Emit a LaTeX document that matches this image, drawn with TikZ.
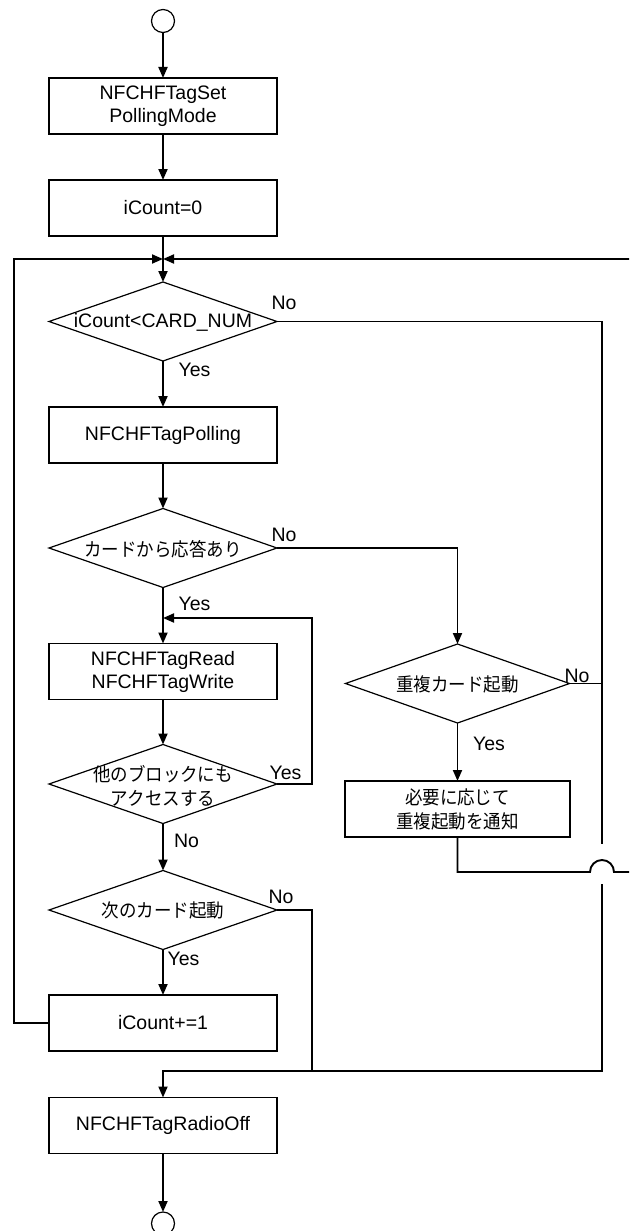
\documentclass[tikz,border=0pt]{standalone}
\usepackage{fontspec}
\setmainfont{Liberation Sans}
\newfontfamily\jpfam[FakeStretch=0.93]{Noto Sans CJK JP}
\usetikzlibrary{shapes.geometric,arrows.meta}
\newcommand\myfs{\fontsize{19.5}{23}\selectfont}
\newcommand\jpfs{\jpfam\fontsize{18.8}{24}\selectfont}
\begin{document}
\begin{tikzpicture}[x=1pt,y=-1pt,
 proc/.style={draw,line width=1.2pt,minimum width=228pt,minimum height=56pt,inner sep=0pt,outer sep=0pt,align=center,font=\myfs},
 dia/.style={draw,shape=diamond,line width=1.2pt,minimum width=228pt,minimum height=79pt,inner sep=0pt,outer sep=0pt},
 term/.style={draw,circle,line width=1.2pt,minimum size=23pt,inner sep=0pt,outer sep=0pt},
 lbl/.style={font=\myfs,inner sep=0pt},
 jtxt/.style={font=\jpfs,inner sep=0pt,align=center},
 conn/.style={line width=1.9pt},
 arr/.style={conn,-{Triangle[length=11pt,width=9pt]}}]
\useasboundingbox (0,0) rectangle (629,1231);
\clip (0,0) rectangle (629,1231);
% main column
\node[term] (start) at (163,21) {};
\node[proc] (b1) at (163,106) {NFCHFTagSet\\PollingMode};
\node[proc] (b2) at (163,208) {iCount=0};
\coordinate (j) at (163,259);
\node[dia] (d1) at (163,321.5) {};
\node[lbl] (d1t) at (163,322) {iCount<CARD\_NUM};
\node[proc] (b3) at (163,435) {NFCHFTagPolling};
\node[dia] (d2) at (163,548) {};
\node[jtxt] (d2t) at (163,549) {カードから応答あり};
\node[proc] (b4) at (163,671.5) {NFCHFTagRead\\NFCHFTagWrite};
\node[dia] (d4) at (163,784) {};
\node[jtxt] (d4t) at (163,786) {他のブロックにも\\アクセスする};
\node[dia] (d5) at (163,910) {};
\node[jtxt] (d5t) at (163,910) {次のカード起動};
\node[proc] (b6) at (163,1023) {iCount+=1};
\coordinate (m) at (163,1071);
\node[proc] (b7) at (163,1125.5) {NFCHFTagRadioOff};
\node[term] (end) at (163,1223.5) {};
% right column
\node[dia,minimum width=224pt] (d3) at (457.5,683.5) {};
\node[jtxt] (d3t) at (457.5,684) {重複カード起動};
\node[proc,minimum width=225pt,font=\jpfs] (b5) at (457.5,809) {必要に応じて\\重複起動を通知};
% coordinates
\coordinate (lp) at (163,618);
\coordinate (r3) at (602,683.5);
\coordinate (m5) at (312,1071);
% labels
\node[lbl] (l1n) at (284,303) {No};
\node[lbl] (l1y) at (194.5,370) {Yes};
\node[lbl] (l2n) at (284,535) {No};
\node[lbl] (l2y) at (194.5,603.5) {Yes};
\node[lbl] (l3n) at (577,676) {No};
\node[lbl] (l3y) at (489,744) {Yes};
\node[lbl] (l4y) at (285.5,772.5) {Yes};
\node[lbl] (l4n) at (186.5,840.5) {No};
\node[lbl] (l5n) at (281,896.5) {No};
\node[lbl] (l5y) at (183.5,958.5) {Yes};
% connectors
\draw[arr] (start) -- (b1);
\draw[arr] (b1) -- (b2);
\draw[arr] (b2) -- (d1);
\draw[arr] (d1) -- (b3);
\draw[arr] (b3) -- (d2);
\draw[arr] (d2) -- (b4);
\draw[arr] (b4) -- (d4);
\draw[arr] (d4) -- (d5);
\draw[arr] (d5) -- (b6);
\draw[arr] (b7) -- (end);
\draw[arr] (d3) -- (b5);
\draw[arr] (d4.east) -- (312,784) |- (lp);
\draw[arr] (d2.east) -| (d3.north);
\draw[conn] (d3.east) -- (r3);
\draw[arr] (d1.east) -| (602,844) (602,884) -- (602,1071) -- (m) -- (b7);
\draw[conn] (d5.east) -- (312,910) -- (m5);
\draw[arr] (b6.west) -- (14,1023) -- (14,259) -- (j);
\draw[arr] (b5.south) |- (590,872) arc[start angle=180,end angle=0,radius=12pt] -- (640,872) -- (640,259) -- (j);
\end{tikzpicture}
\end{document}
